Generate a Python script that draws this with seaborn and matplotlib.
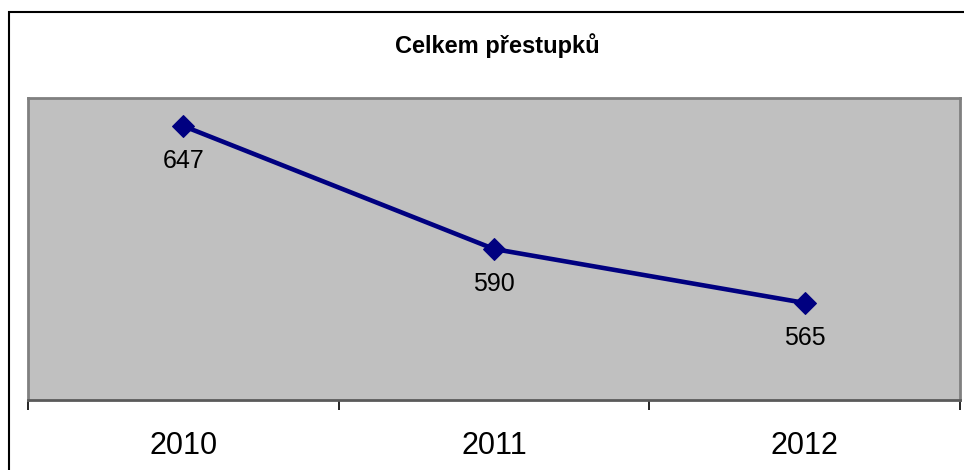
import matplotlib
matplotlib.use('Agg')
import matplotlib.pyplot as plt
import seaborn as sns
import pandas as pd
from matplotlib.patches import Rectangle

# data
years = ['2010', '2011', '2012']
prestupky = [647, 590, 565]
title = 'Celkem přestupků'

sns.set_theme(style='white')
plt.rcParams['font.family'] = ['Liberation Sans', 'DejaVu Sans']
plt.rcParams['text.color'] = 'black'
plt.rcParams['xtick.color'] = 'black'

df = pd.DataFrame({'pos': range(len(years)), 'rok': years, 'pocet': prestupky})

fig = plt.figure(figsize=(9.64, 4.70), dpi=100)
ax = fig.add_axes([28 / 964, 1 - 400 / 470, 932 / 964, 302 / 470])
ax.set_facecolor('#C0C0C0')

sns.lineplot(data=df, x='pos', y='pocet', ax=ax, color='#000080', linewidth=3.3,
             marker='D', markersize=11, markeredgecolor='#000080')

for x, v in zip(df['pos'], df['pocet']):
    ax.annotate(str(v), (x, v), xytext=(0, -25.5), textcoords='offset points',
                ha='center', va='center', fontsize=18, color='black')

ax.set_xlim(-0.5, len(years) - 0.5)
ax.set_ylim(520, 660)
ax.set_yticks([])
ax.set_xticks(range(len(years)))
ax.set_xticklabels(years, fontsize=22, color='black')
ax.set_xticks([i - 0.5 for i in range(len(years) + 1)], minor=True)
ax.tick_params(axis='x', which='major', length=0, pad=22)
ax.tick_params(axis='x', which='minor', length=7, width=1.2, color='black', bottom=True)
ax.set_xlabel('')
ax.set_ylabel('')

for s in ax.spines.values():
    s.set_color('#808080')
    s.set_linewidth(2)
ax.spines['bottom'].set_color('#5a5a5a')

fig.text(497 / 964, 1 - 46 / 470, title, ha='center', va='center',
         fontsize=17, fontweight='bold', color='black')

# outer chart frame (extends past the right and bottom edges)
fig.patches.append(Rectangle((9 / 964, -0.1), 1.2, 1.1 - 12 / 470,
                             transform=fig.transFigure, fill=False,
                             edgecolor='black', linewidth=1.5))

fig.savefig('out.png', dpi=100)
